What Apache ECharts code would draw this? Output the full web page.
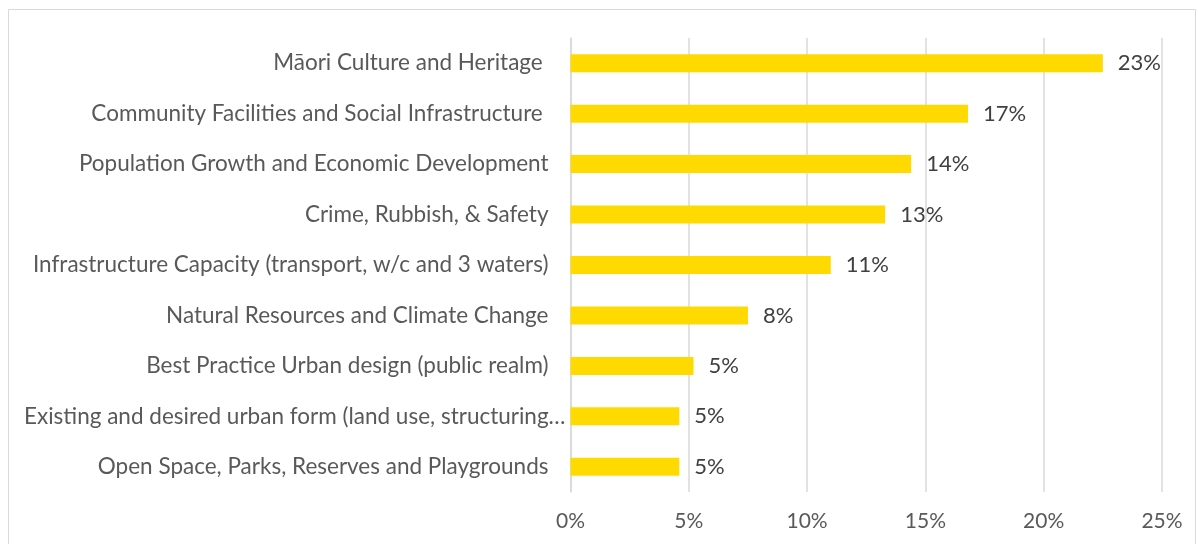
<!DOCTYPE html>
<html>
<head>
<meta charset="utf-8">
<script src="https://cdn.jsdelivr.net/npm/echarts@6/dist/echarts.min.js"></script>
<style>
  html, body { margin: 0; padding: 0; background: #fff; }
  #main { width: 1198px; height: 544px; }
</style>
</head>
<body>
<div id="main"></div>
<script>
// categories top to bottom (as shown)
const categories = [
  'Māori Culture and Heritage ',
  'Community Facilities and Social Infrastructure ',
  'Population Growth and Economic Development',
  'Crime, Rubbish, & Safety',
  'Infrastructure Capacity (transport, w/c and 3 waters)',
  'Natural Resources and Climate Change',
  'Best Practice Urban design (public realm)',
  'Existing and desired urban form (land use, structuring…',
  'Open Space, Parks, Reserves and Playgrounds'
];
// share of responses, %
const shares = [22.5, 16.8, 14.4, 13.3, 11.0, 7.5, 5.2, 4.6, 4.6];
const xTicks = [0, 5, 10, 15, 20, 25];

const FONT = 'Lato';
const chart = echarts.init(document.getElementById('main'));

chart.setOption({
  animation: false,
  graphic: [{
    type: 'rect',
    shape: { x: 8.5, y: 9.5, width: 1187, height: 560 },
    style: { fill: 'none', stroke: '#d9d9d9', lineWidth: 1 }
  }],
  grid: { left: 570.5, right: 36, top: 38, bottom: 52, containLabel: false },
  xAxis: {
    type: 'value',
    min: xTicks[0],
    max: xTicks[xTicks.length - 1],
    interval: 5,
    axisLine: { show: false },
    axisTick: { show: false },
    splitLine: { lineStyle: { color: '#d9d9d9', width: 1.5 } },
    axisLabel: {
      formatter: v => v + '%',
      color: '#595959',
      fontFamily: FONT,
      fontSize: 21,
      margin: 19
    }
  },
  yAxis: {
    type: 'category',
    inverse: true,
    data: categories,
    axisLine: { show: true, lineStyle: { color: '#d9d9d9', width: 1.5 } },
    axisTick: { show: false },
    axisLabel: {
      margin: 5,
      color: '#595959',
      fontFamily: FONT,
      fontSize: 22.5,
      formatter: (v) => v.endsWith('…') ? v : '{n|' + v + '}',
      rich: {
        n: { padding: [0, 17, 0, 0], color: '#595959', fontFamily: FONT, fontSize: 22.5 }
      }
    }
  },
  series: [{
    type: 'bar',
    data: shares,
    barWidth: 18,
    itemStyle: { color: '#FFDA00' },
    label: {
      show: true,
      position: 'right',
      distance: 15,
      formatter: p => Math.round(p.value) + '%',
      color: '#404040',
      fontFamily: FONT,
      fontSize: 22
    }
  }]
});
</script>
</body>
</html>
